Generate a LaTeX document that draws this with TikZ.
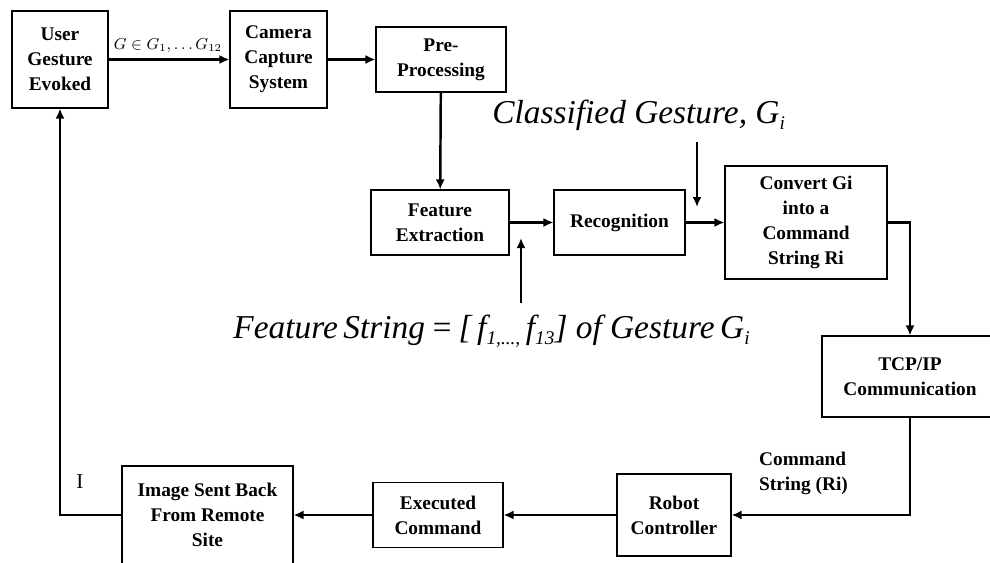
\documentclass[tikz,border=0pt]{standalone}
\usepackage{fontspec}
\setmainfont{Liberation Serif}
\usepackage{tikz}
\usetikzlibrary{arrows.meta}
\newcommand{\lowsub}[1]{\raisebox{-0.45ex}{\fontsize{11}{11}\selectfont #1}}

\begin{document}
\begin{tikzpicture}[x=0.2mm,y=-0.2mm,
  blockbox/.style={draw,line width=0.6pt,align=center,inner sep=0pt,
    font=\bfseries\fontsize{11}{14.2}\selectfont},
  flow/.style={line width=1.4pt,-{Latex[length=2mm,width=1.8mm]}},
  bigtext/.style={inner sep=0pt,font=\itshape\fontsize{19}{22}\selectfont}]
  \fill[white] (0,0) rectangle (990,562);
  \useasboundingbox (0,0) rectangle (990,562);
  % top row
  \node[blockbox,minimum width=19.2mm,minimum height=19.4mm] (user) at (60,59.5)
    {User\\Gesture\\Evoked};
  \node[blockbox,minimum width=19.4mm,minimum height=19.4mm] (camera) at (278.5,59.5)
    {Camera\\Capture\\System};
  \node[blockbox,minimum width=26mm,minimum height=13mm] (prep) at (441,59.5)
    {Pre-\\Processing};
  % middle row
  \node[blockbox,minimum width=27.6mm,minimum height=13mm] (feat) at (440,222.5)
    {Feature\\Extraction};
  \node[blockbox,minimum width=26.2mm,minimum height=13mm] (recog) at (619.5,222.5)
    {Recognition};
  \node[blockbox,minimum width=32.4mm,minimum height=22.6mm] (convert) at (806,222.5)
    {Convert Gi\\into a\\Command\\String Ri};
  \node[blockbox,minimum width=35.2mm,minimum height=16.2mm] (tcp) at (910,376.5)
    {TCP/IP\\Communication};
  % bottom row
  \node[blockbox,minimum width=22.8mm,minimum height=16.4mm] (robot) at (674,515)
    {Robot\\Controller};
  \node[blockbox,minimum width=26mm,minimum height=13mm] (exec) at (438,515)
    {Executed\\Command};
  \node[blockbox,minimum width=34.2mm,minimum height=19.6mm] (image) at (207.5,515)
    {Image Sent Back\\From Remote\\Site};
  % labels
  \node[font=\fontsize{9}{10}\selectfont] (gset) at (168,46) {$G\in G_1,\ldots G_{12}$};
  \node[bigtext,anchor=base west] (clslabel) at (492,123)
    {Classified Gesture, G\lowsub{i}};
  \node[bigtext,anchor=base west] (featlabel) at (233,338)
    {Feature\,String\,=\,[\,f\lowsub{1,...,}\,f\lowsub{13}] of Gesture\,G\lowsub{i}};
  \node[font=\fontsize{12}{14}\selectfont] (ilabel) at (80,482) {I};
  \node[font=\bfseries\fontsize{11}{14.2}\selectfont,align=left,anchor=west] (cmdlabel)
    at (753,473.5) {Command\\String (Ri)};
  \coordinate (clsfrom) at (697,142);
  \coordinate (clsto) at (697,207);
  \coordinate (featfrom) at (521,303);
  \coordinate (featto) at (521,238);
  % connectors
  \draw[flow] (user) -- (camera);
  \draw[flow] (camera) -- (prep);
  \draw[flow] (prep) -- (feat);
  \draw[flow] (feat) -- (recog);
  \draw[flow] (recog) -- (convert);
  \draw[flow] (clsfrom) -- (clsto);
  \draw[flow] (featfrom) -- (featto);
  \draw[flow] (convert.east) -| (tcp.north);
  \draw[flow] (tcp.south) |- (robot.east);
  \draw[flow] (robot) -- (exec);
  \draw[flow] (exec) -- (image);
  \draw[flow] (image.west) -| (user.south);
\end{tikzpicture}
\end{document}
